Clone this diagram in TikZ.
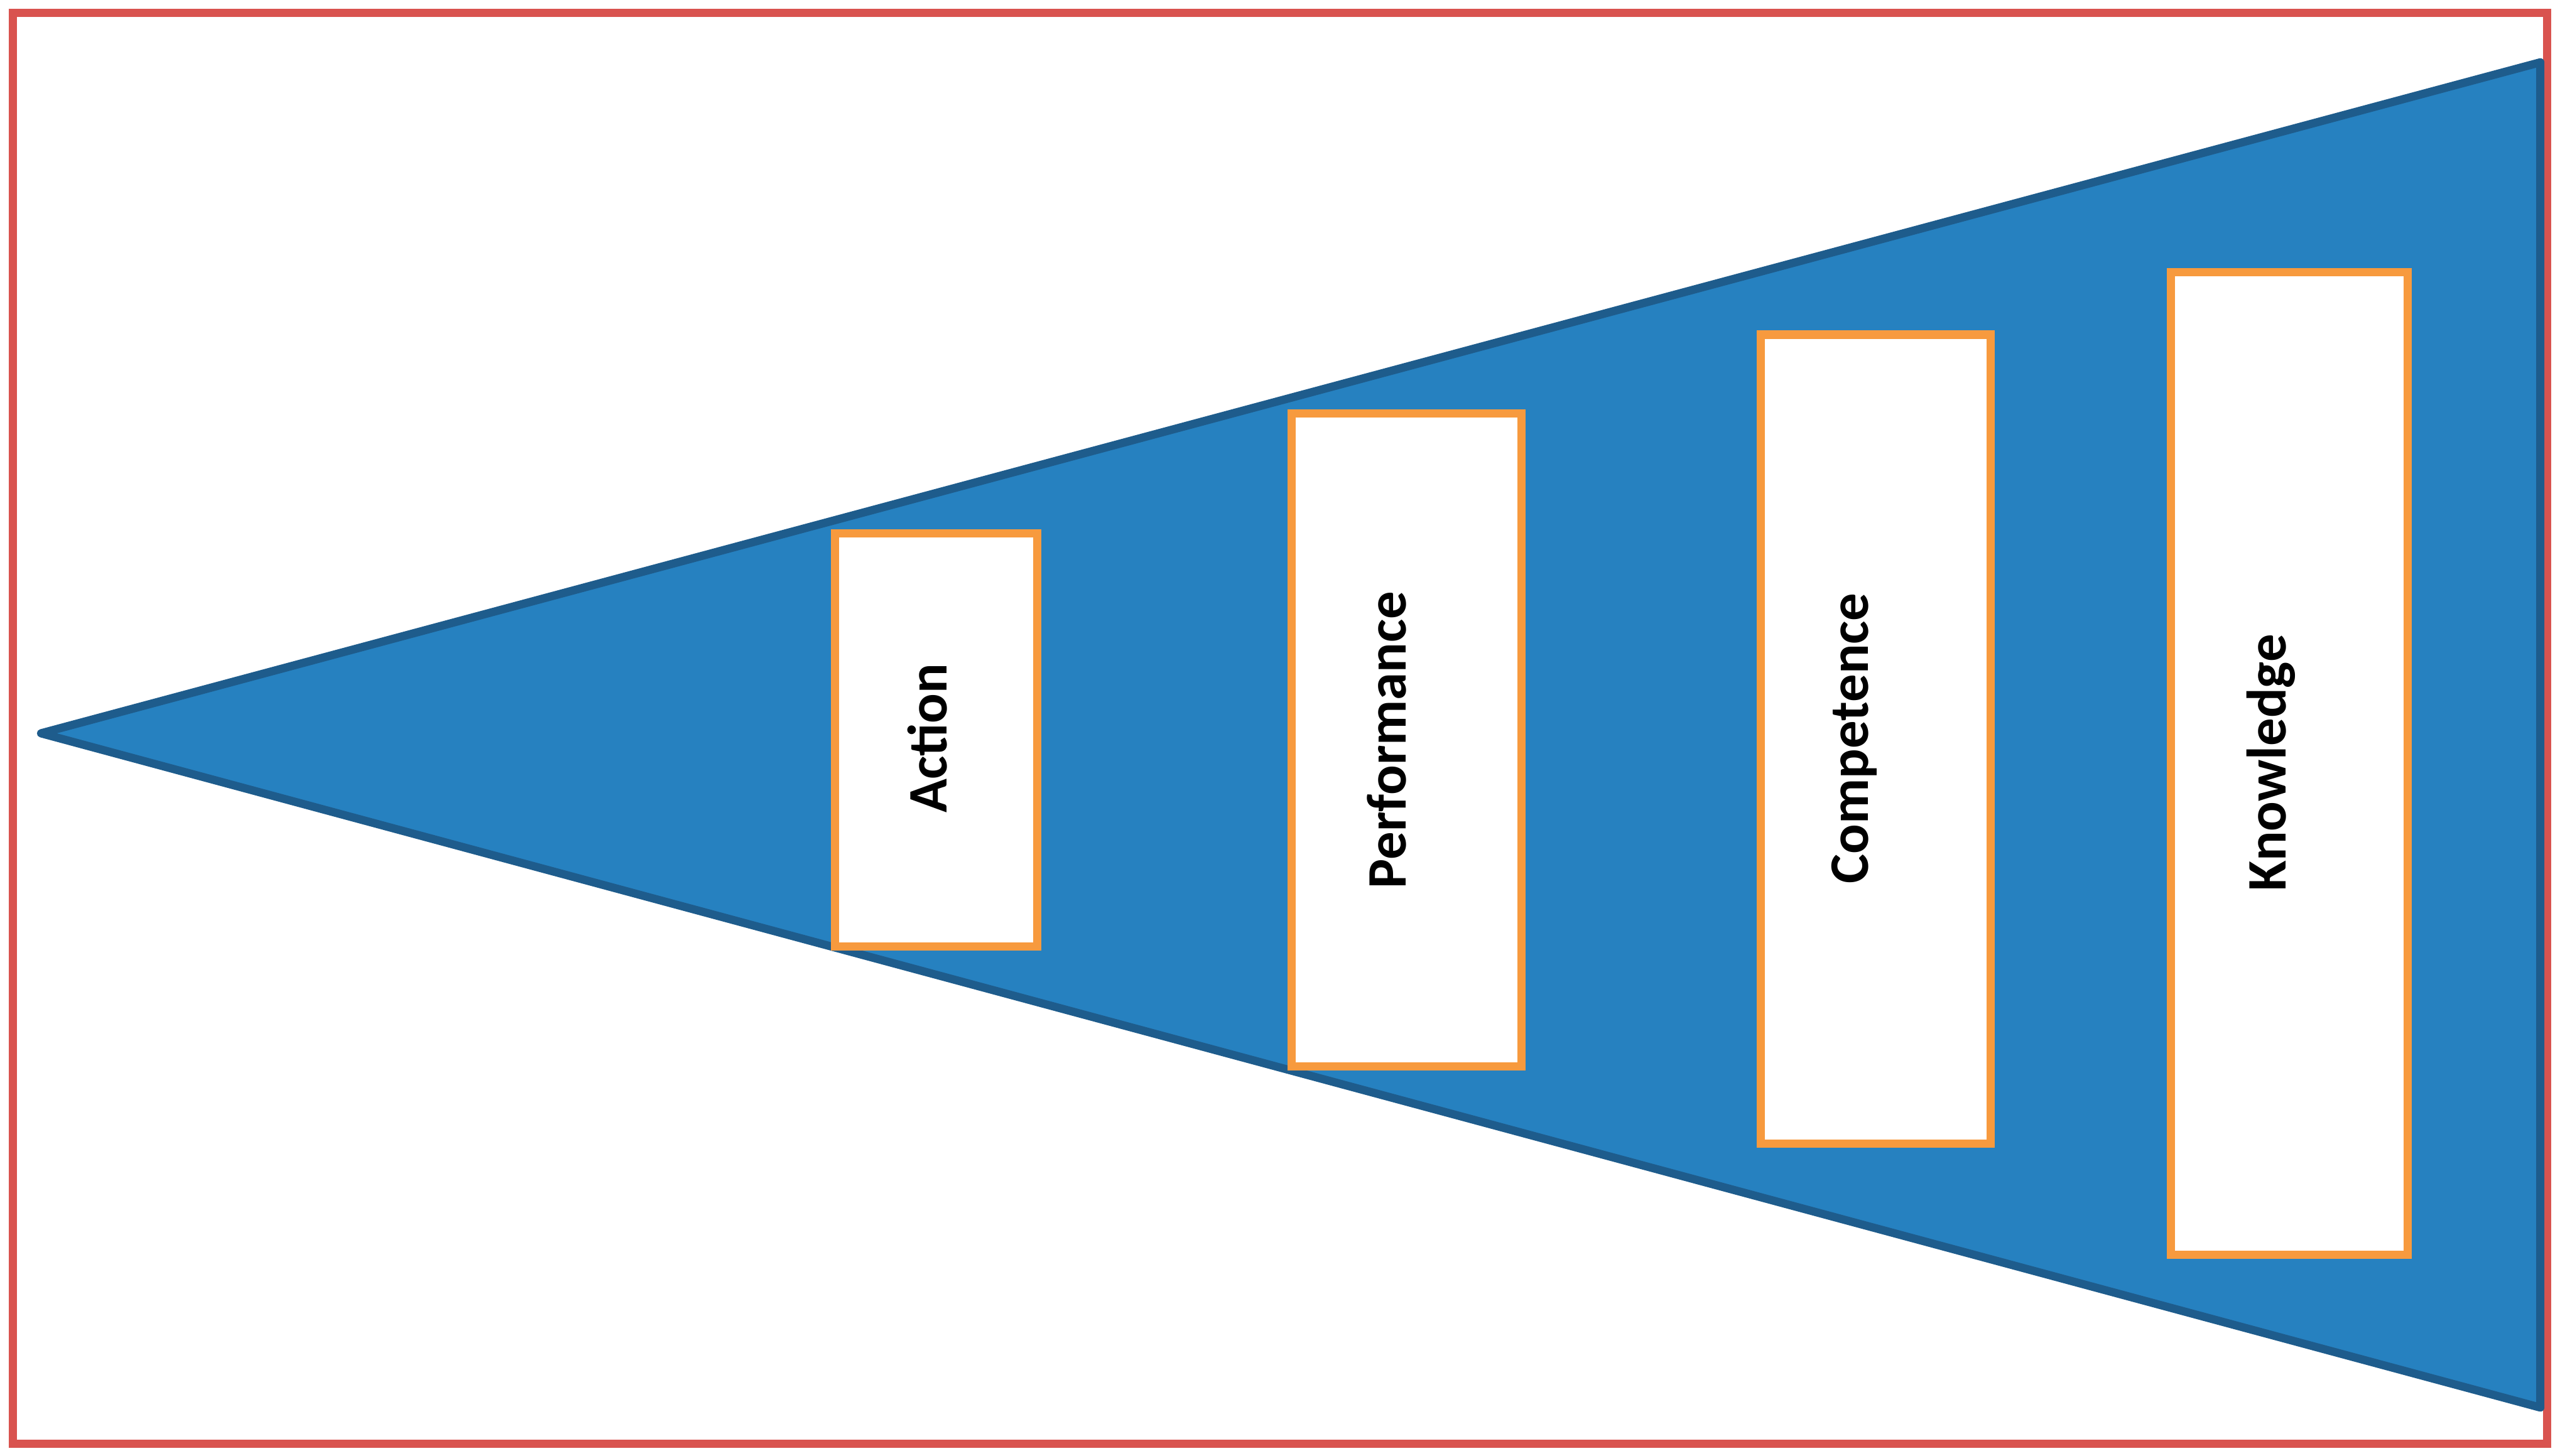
\documentclass[tikz,border=0pt]{standalone}
\usepackage{fontspec}
\setmainfont{Carlito}
\begin{document}
\begin{tikzpicture}[x=1pt,y=-1pt,
  box/.style={draw=boxor,line width=5pt,fill=white},
  lab/.style={rotate=90,font=\fontsize{34}{40}\selectfont\bfseries}]
\definecolor{boxor}{HTML}{F79A3E}
\definecolor{tri}{HTML}{2681C0}
\definecolor{trid}{HTML}{1E5C8C}
\definecolor{frame}{HTML}{D9534F}
\useasboundingbox (0,0) rectangle (1560,887.5);
\draw[frame,line width=5pt] (8,8) rectangle (1552,880);
\draw[trid,fill=tri,line width=5pt,line join=round] (25,447) -- (1548,38) -- (1548,858) -- cycle;
\draw[box] (509,325) rectangle (632,577);
\draw[box] (787,252) rectangle (927,650);
\draw[box] (1073,204) rectangle (1213,697);
\draw[box] (1323,166) rectangle (1467,765);
\node[lab] (a) at (565,450) {Action};
\node[lab] (p) at (845,451) {Performance};
\node[lab] (c) at (1130,450) {Competence};
\node[lab] (k) at (1384,465) {Knowledge};
\end{tikzpicture}
\end{document}
